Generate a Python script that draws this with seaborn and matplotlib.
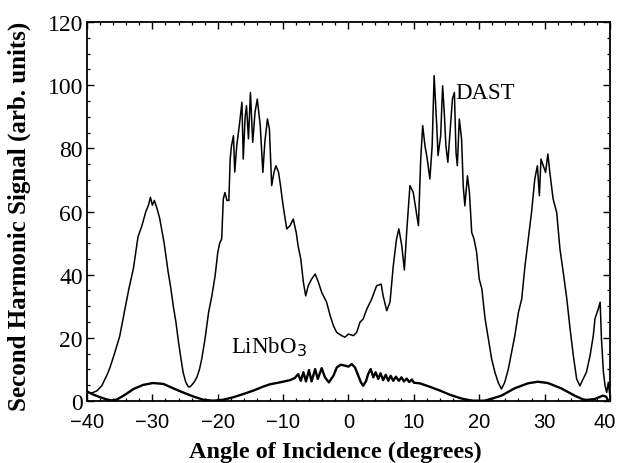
import numpy as np
import pandas as pd
import matplotlib
matplotlib.use("Agg")
import matplotlib.pyplot as plt
import matplotlib.transforms as mtransforms
import seaborn as sns
from matplotlib.ticker import MultipleLocator

# ---- data ----
dast_angle = [
    -40.0, -39.3, -38.5, -37.75, -37.0, -36.5, -35.8, -35.0, -34.3, -33.6, -32.9, -32.2,
    -31.6, -31.0, -30.6, -30.3, -30.0, -29.7, -29.3, -28.9, -28.6, -28.2, -27.6, -27.2,
    -26.8, -26.4, -26.0, -25.6, -25.3, -24.9, -24.5, -24.25, -24.0, -23.6, -23.2, -22.8,
    -22.45, -21.95, -21.4, -20.9, -20.4, -20.0, -19.7, -19.4, -19.15, -18.9, -18.6, -18.3,
    -18.1, -17.9, -17.6, -17.4, -17.1, -16.7, -16.3, -16.1, -15.8, -15.6, -15.3, -15.0,
    -14.65, -14.3, -13.95, -13.5, -13.1, -12.8, -12.4, -12.1, -11.75, -11.4, -11.1, -10.7,
    -10.4, -10.0, -9.45, -8.95, -8.45, -8.0, -7.7, -7.3, -6.9, -6.55, -6.15, -5.65,
    -5.1, -4.6, -4.1, -3.35, -2.8, -2.3, -1.8, -1.05, -0.55, 0.0, 0.75, 1.25,
    1.75, 2.25, 2.8, 3.55, 4.3, 5.0, 5.3, 5.85, 6.35, 6.85, 7.35, 7.7,
    8.15, 8.55, 8.9, 9.4, 9.9, 10.3, 10.7, 11.05, 11.35, 11.7, 12.05, 12.45,
    12.8, 13.1, 13.5, 13.7, 14.1, 14.4, 14.65, 14.9, 15.2, 15.5, 15.9, 16.2,
    16.45, 16.65, 16.95, 17.3, 17.55, 17.8, 18.2, 18.5, 18.85, 19.2, 19.6, 20.0,
    20.4, 20.9, 21.4, 21.9, 22.4, 22.9, 23.4, 23.9, 24.45, 24.95, 25.45, 26.0,
    26.5, 27.0, 27.5, 28.0, 28.5, 28.9, 29.2, 29.45, 29.8, 30.15, 30.5, 30.8,
    31.3, 31.85, 32.35, 32.85, 33.4, 33.9, 34.4, 34.9, 35.4, 35.9, 36.4, 36.95,
    37.45, 37.7, 38.2, 38.5, 38.7, 39.0, 39.25, 39.5, 39.75, 40.0,
]
dast_signal = [
    2.8, 2.5, 3.2, 4.8, 8.0, 10.5, 15.0, 20.5, 28.0, 35.5, 42.0, 52.0,
    55.5, 60.0, 62.0, 64.5, 62.0, 63.5, 61.0, 58.0, 54.5, 50.0, 41.0, 36.0,
    30.0, 25.0, 18.6, 13.0, 9.1, 6.0, 4.5, 4.5, 5.0, 6.0, 7.5, 10.0,
    13.3, 19.6, 28.1, 33.3, 39.7, 47.0, 50.0, 51.3, 64.0, 66.0, 63.5, 63.5,
    76.6, 80.8, 84.0, 72.5, 80.8, 87.2, 94.6, 76.6, 90.3, 93.5, 83.0, 97.7,
    81.9, 91.4, 95.6, 87.2, 72.4, 81.9, 89.3, 86.1, 68.2, 72.4, 74.5, 72.4,
    68.2, 61.8, 54.5, 55.5, 57.6, 53.4, 49.0, 45.0, 37.6, 33.3, 36.5, 38.6,
    40.2, 37.6, 34.4, 31.3, 27.0, 23.8, 21.7, 20.7, 20.2, 21.2, 20.7, 21.7,
    24.9, 26.0, 29.1, 32.3, 36.5, 37.0, 33.3, 28.6, 31.3, 42.8, 51.3, 54.5,
    49.2, 41.5, 53.4, 68.2, 66.1, 60.8, 55.5, 76.6, 87.2, 80.8, 76.6, 70.3,
    80.8, 103.0, 87.2, 77.7, 84.0, 99.8, 91.4, 80.8, 75.6, 84.0, 95.6, 97.7,
    78.7, 74.5, 89.3, 83.0, 68.2, 61.8, 71.3, 66.1, 53.4, 51.3, 47.1, 38.6,
    35.5, 26.0, 19.6, 13.3, 9.1, 5.9, 3.8, 5.9, 10.1, 15.4, 20.7, 28.1,
    32.3, 42.8, 51.3, 59.7, 70.3, 74.5, 65.0, 76.6, 74.5, 72.4, 78.2, 72.4,
    64.0, 59.7, 48.1, 40.8, 32.3, 22.8, 14.3, 7.0, 4.8, 7.0, 9.1, 14.3,
    20.7, 26.0, 29.1, 31.3, 19.6, 9.1, 4.8, 2.7, 5.9, 1.3,
]

linbo3_angle = [
    -40.0, -39.0, -38.0, -37.0, -36.3, -35.5, -34.4, -33.6, -32.9, -31.4, -29.9, -28.3,
    -26.8, -25.3, -23.7, -22.2, -20.7, -19.15, -17.6, -16.1, -14.55, -13.0, -12.0, -10.5,
    -8.95, -8.2, -7.7, -7.3, -6.9, -6.5, -6.05, -5.65, -5.1, -4.7, -4.1, -3.6,
    -3.0, -2.3, -1.8, -1.2, -0.55, 0.0, 0.5, 1.0, 1.5, 1.9, 2.25, 2.7,
    3.0, 3.4, 3.8, 4.15, 4.55, 4.9, 5.3, 5.7, 6.1, 6.45, 6.85, 7.25,
    7.7, 8.1, 8.5, 8.9, 9.3, 9.7, 10.0, 10.9, 12.45, 14.0, 15.5, 17.0,
    18.1, 19.1, 20.8, 22.0, 23.4, 25.4, 27.45, 28.95, 30.5, 32.55, 34.6, 36.1,
    37.65, 38.9, 39.4, 39.7, 40.0,
]
linbo3_signal = [
    3.0, 2.0, 1.2, 0.5, 0.2, 0.4, 1.7, 2.8, 3.8, 5.1, 5.7, 5.4,
    4.0, 2.7, 1.4, 0.4, 0.1, 0.4, 1.2, 2.2, 3.3, 4.6, 5.3, 5.9,
    6.6, 7.3, 8.5, 6.4, 9.1, 6.2, 9.8, 6.2, 10.1, 7.0, 10.4, 7.5,
    5.9, 8.0, 10.6, 11.5, 11.2, 10.9, 11.7, 10.6, 8.0, 5.9, 4.8, 6.4,
    8.5, 10.1, 7.5, 9.1, 7.0, 8.8, 6.6, 8.3, 6.4, 8.0, 6.4, 7.7,
    6.4, 7.5, 6.2, 7.1, 6.0, 6.8, 5.8, 5.6, 4.5, 3.3, 2.0, 0.95,
    0.4, 0.1, 0.1, 0.8, 1.7, 4.0, 5.6, 6.1, 5.7, 4.0, 1.7, 0.3,
    0.6, 1.7, 1.4, 0.2, 0.0,
]

x_ticks = [-40, -30, -20, -10, 0, 10, 20, 30, 40]
y_ticks = [0, 20, 40, 60, 80, 100, 120]

dast_df = pd.DataFrame({"angle": dast_angle, "signal": dast_signal})
lin_df = pd.DataFrame({"angle": linbo3_angle, "signal": linbo3_signal})

sns.set_theme(style="ticks")
plt.rcParams["font.family"] = ["Liberation Serif", "DejaVu Serif"]
plt.rcParams["axes.linewidth"] = 1.3
plt.rcParams["text.color"] = "black"
plt.rcParams["axes.labelcolor"] = "black"
plt.rcParams["xtick.color"] = "black"
plt.rcParams["ytick.color"] = "black"
plt.rcParams["axes.edgecolor"] = "black"

fig = plt.figure(figsize=(6.18, 4.64), dpi=100)
ax = fig.add_axes([0.1408, 0.1336, 0.8462, 0.8168])

sns.lineplot(data=dast_df, x="angle", y="signal", ax=ax, color="black",
             linewidth=1.1, estimator=None, sort=False)
sns.lineplot(data=lin_df, x="angle", y="signal", ax=ax, color="black",
             linewidth=1.7, estimator=None, sort=False)

ax.set_xlim(-40, 40)
ax.set_ylim(0, 120)
ax.set_xticks(x_ticks)
ax.set_yticks(y_ticks)
ax.xaxis.set_minor_locator(MultipleLocator(2))
ax.yaxis.set_minor_locator(MultipleLocator(5))
ax.tick_params(which="both", direction="in", top=True, right=True, colors="black")
ax.tick_params(which="major", length=5, width=1.0)
ax.tick_params(which="minor", length=2.5, width=0.9)
ax.tick_params(axis="y", labelsize=17, pad=3)
ax.tick_params(axis="x", labelsize=14.5, pad=8)
xlabels = ax.get_xticklabels()
for lab in xlabels:
    lab.set_fontfamily(["Liberation Sans", "DejaVu Sans"])
shift = mtransforms.ScaledTranslation(-5 / 100, 0, fig.dpi_scale_trans)
xlabels[-1].set_transform(xlabels[-1].get_transform() + shift)
for s in ax.spines.values():
    s.set_color("black")
    s.set_linewidth(1.3)

ax.set_xlabel("Angle of Incidence (degrees)", fontsize=17.5, fontweight="bold", color="black")
ax.set_ylabel("Second Harmonic Signal (arb. units)", fontsize=18, fontweight="bold", color="black")
ax.xaxis.set_label_coords(0.475, -0.105)
ax.yaxis.set_label_coords(-0.108, 0.49)

ax.text(16.3, 97.8, "DAST", fontsize=16.5, va="center", ha="left", color="black")
ax.text(-17.9, 15.5, "LiNbO$_3$", fontsize=16.5, va="baseline", ha="left", color="black")

fig.savefig("out.png", dpi=100)
